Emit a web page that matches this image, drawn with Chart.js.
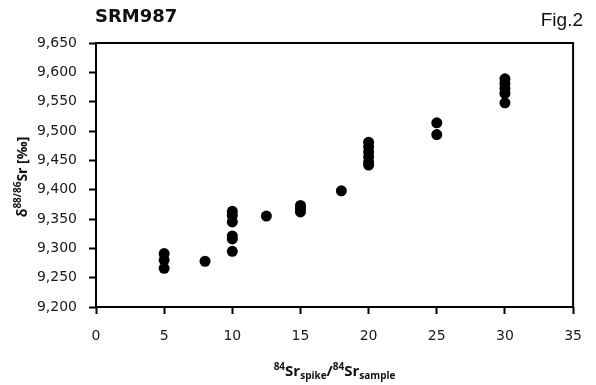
<!DOCTYPE html>
<html>
<head>
<meta charset="utf-8">
<script src="https://cdn.jsdelivr.net/npm/chart.js@4.4.1/dist/chart.umd.min.js"></script>
<style>
body { margin: 0; background: #fff; }
</style>
</head>
<body>
<canvas id="chart1" width="596" height="385"></canvas>
<script>
// 84Sr spike / 84Sr sample ratio and measured delta 88/86 Sr
var ratio = [5, 5, 5, 8, 10, 10, 10, 10, 10, 10, 12.5, 15, 15, 15, 18,
    20, 20, 20, 20, 20, 20, 25, 25, 30, 30, 30, 30, 30];
var delta = [9291, 9280, 9266, 9278, 9363, 9356, 9345, 9321, 9316, 9295, 9355, 9373, 9368, 9362, 9398,
    9481, 9473, 9464, 9456, 9447, 9442, 9514, 9494, 9589, 9581, 9572, 9564, 9548];
var xTicks = [0, 5, 10, 15, 20, 25, 30, 35];
var yTicks = [9200, 9250, 9300, 9350, 9400, 9450, 9500, 9550, 9600, 9650];

var points = ratio.map(function (r, i) { return { x: r, y: delta[i] }; });

// draws a line of text with super/subscript parts, centered on x
function richText(ctx, parts, x, y) {
    var total = 0;
    parts.forEach(function (p) {
        ctx.font = p.font;
        p.w = ctx.measureText(p.t).width;
        total += p.w;
    });
    var cx = x - total / 2;
    ctx.textAlign = 'left';
    ctx.textBaseline = 'alphabetic';
    parts.forEach(function (p) {
        ctx.font = p.font;
        ctx.fillText(p.t, cx, y + (p.dy || 0));
        cx += p.w;
    });
}

var frameAndText = {
    id: 'frameAndText',
    afterDraw: function (chart) {
        var ctx = chart.ctx;
        var a = chart.chartArea;
        ctx.save();
        ctx.strokeStyle = '#000';
        ctx.lineWidth = 2;
        ctx.strokeRect(a.left, a.top, a.right - a.left, a.bottom - a.top);

        ctx.fillStyle = '#111';
        ctx.textAlign = 'left';
        ctx.textBaseline = 'alphabetic';
        ctx.font = 'bold 18px "DejaVu Sans"';
        ctx.fillText('SRM987', 95, 22);

        ctx.textAlign = 'right';
        ctx.font = '19px "Liberation Sans"';
        ctx.fillText('Fig.2', 583, 26);

        var big = 'bold 15px "Open Sans"';
        var small = 'bold 10px "Open Sans"';
        richText(ctx, [
            { t: '84', font: small, dy: -6 },
            { t: 'Sr', font: big },
            { t: 'spike', font: small, dy: 3 },
            { t: '/', font: big },
            { t: '84', font: small, dy: -6 },
            { t: 'Sr', font: big },
            { t: 'sample', font: small, dy: 3 }
        ], (a.left + a.right) / 2, 376);

        ctx.translate(27, (a.top + a.bottom) / 2 + 2);
        ctx.rotate(-Math.PI / 2);
        richText(ctx, [
            { t: 'δ', font: 'bold 14px "Open Sans"' },
            { t: '88/86', font: 'bold 10px "Open Sans"', dy: -6 },
            { t: 'Sr [‰]', font: 'bold 14px "Open Sans"' }
        ], 0, 0);
        ctx.restore();
    }
};

var chart1Ctx = document.querySelector('canvas#chart1').getContext('2d');

var chart1 = new Chart(chart1Ctx, {
    type: 'scatter',
    data: {
        datasets: [{
            label: 'SRM987',
            data: points,
            backgroundColor: '#000',
            borderColor: '#000',
            borderWidth: 0,
            pointRadius: 5.5,
            pointHoverRadius: 5.5
        }]
    },
    options: {
        responsive: false,
        animation: false,
        events: [],
        layout: {
            padding: { top: 43, right: 10, left: 0, bottom: 0 }
        },
        plugins: {
            legend: { display: false },
            tooltip: { enabled: false }
        },
        scales: {
            x: {
                type: 'linear',
                min: xTicks[0],
                max: xTicks[xTicks.length - 1],
                afterBuildTicks: function (s) {
                    s.ticks = xTicks.map(function (v) { return { value: v }; });
                },
                afterFit: function (s) { s.height = 78; },
                border: { display: false },
                grid: {
                    drawOnChartArea: false,
                    drawTicks: true,
                    tickLength: 7,
                    tickWidth: 2,
                    tickColor: '#000'
                },
                ticks: {
                    padding: 14,
                    color: '#1a1a1a',
                    font: { family: 'DejaVu Sans', size: 14 },
                    callback: function (v) { return v; }
                }
            },
            y: {
                type: 'linear',
                min: yTicks[0],
                max: yTicks[yTicks.length - 1],
                afterBuildTicks: function (s) {
                    s.ticks = yTicks.map(function (v) { return { value: v }; });
                },
                afterFit: function (s) { s.width = 96; },
                border: { display: false },
                grid: {
                    drawOnChartArea: false,
                    drawTicks: true,
                    tickLength: 7,
                    tickWidth: 2,
                    tickColor: '#000'
                },
                ticks: {
                    padding: 12,
                    color: '#1a1a1a',
                    font: { family: 'DejaVu Sans', size: 14 },
                    callback: function (v) { return v.toLocaleString('en-US'); }
                }
            }
        }
    },
    plugins: [frameAndText]
});
</script>
</body>
</html>
